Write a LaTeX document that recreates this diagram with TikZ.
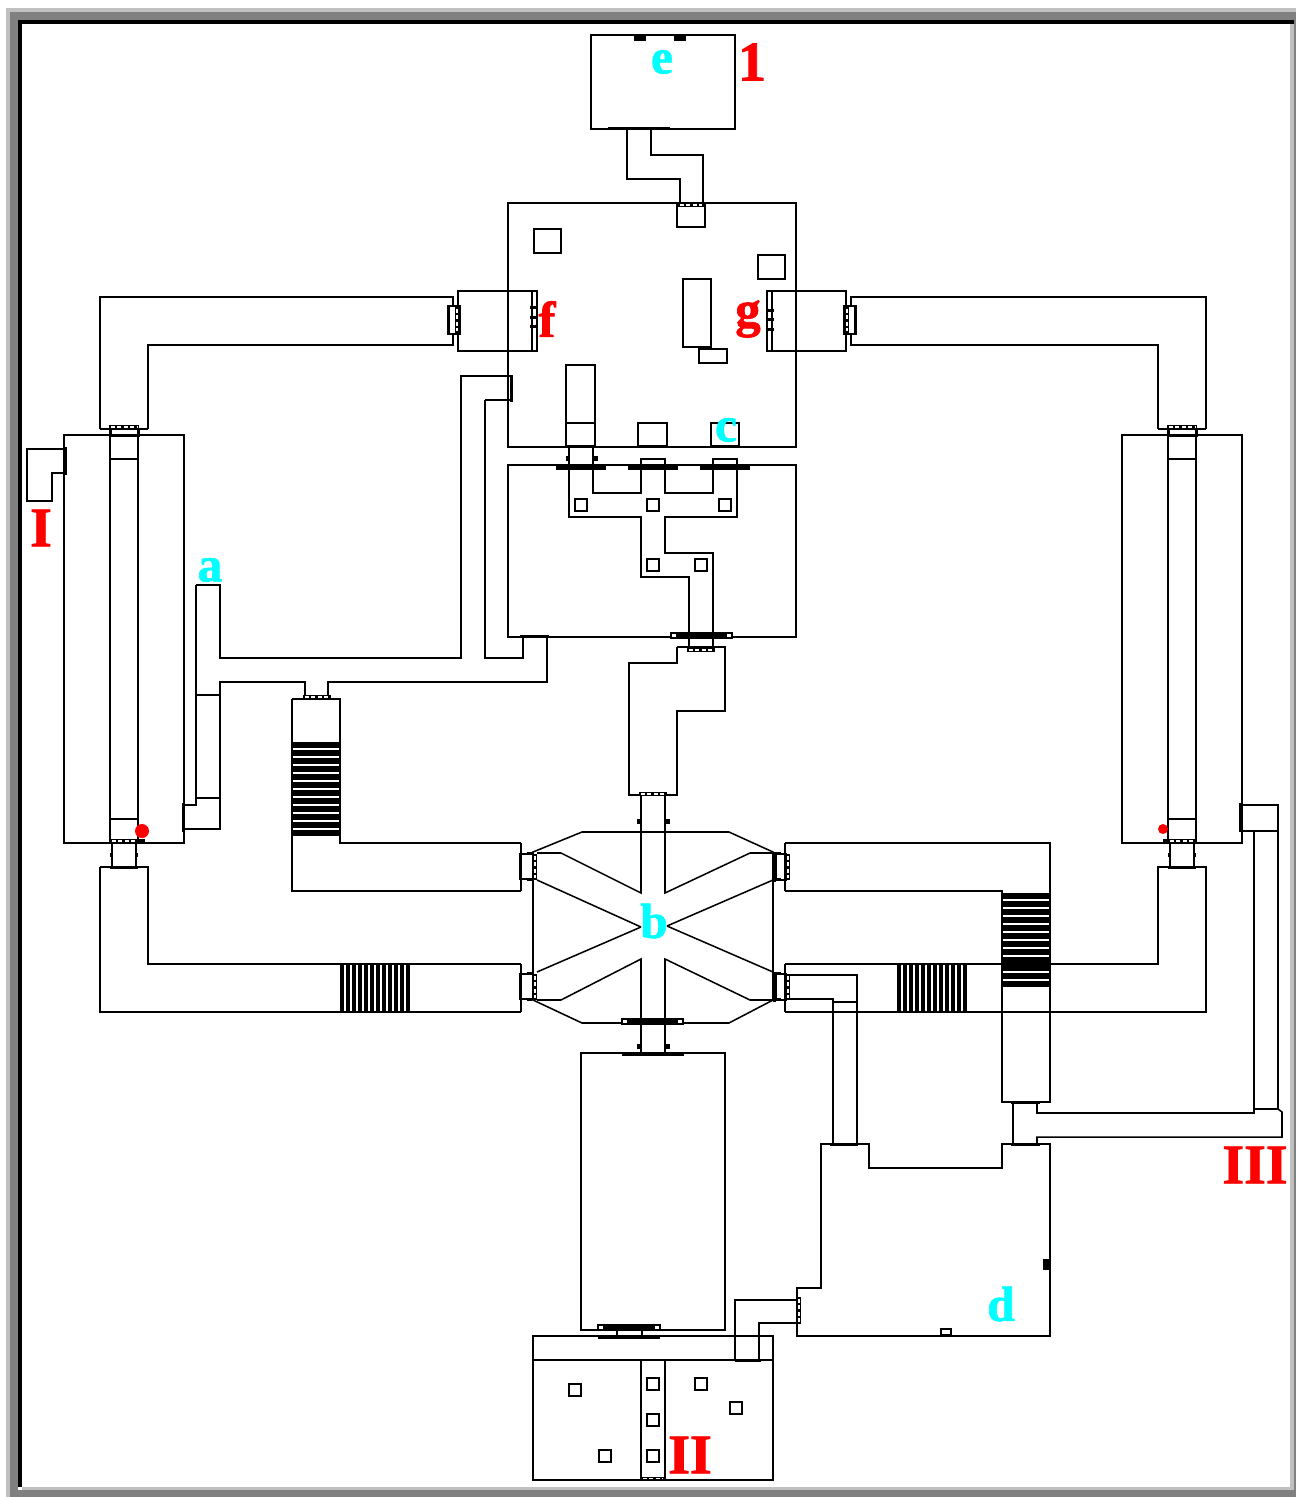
\documentclass[tikz,border=0pt]{standalone}
\usepackage{fontspec}
\setmainfont{Liberation Serif}
\newfontfamily\labfont[FakeBold=1.4]{Liberation Serif Bold}
\definecolor{lgray}{RGB}{192,192,192}
\definecolor{mgray}{RGB}{128,128,128}
\definecolor{labred}{RGB}{255,0,0}
\definecolor{labcyan}{RGB}{0,255,255}
\newcommand\stripH[3]{%
  \fill[black] (#1,#3) rectangle (#2,#3+4);
  \draw[white,line width=1.1pt,dash pattern=on 3pt off 1.8pt] (#1+2,#3+2) -- (#2-2,#3+2);}
\newcommand\stripV[3]{%
  \fill[black] (#3,#1) rectangle (#3+4,#2);
  \draw[white,line width=1.1pt,dash pattern=on 3pt off 1.8pt] (#3+2,#1+2) -- (#3+2,#2-2);}
\newcommand\capbar[3]{%
  \draw[wire,fill=white] (#1,#3) rectangle (#2,#3+5);
  \fill[black] (#1+5,#3) rectangle (#2-5,#3+5);}
\newcommand\boldH[3]{\fill[black] (#1,#3-1.5) rectangle (#2,#3+1.5);}
\newcommand\boldV[3]{\fill[black] (#3-1.5,#1) rectangle (#3+1.5,#2);}
\newcommand\sqr[2]{\draw[wire] (#1,#2) rectangle (#1+12,#2+12);}
\tikzset{
  wire/.style={draw=black,line width=1.15pt,line join=miter},
  redlab/.style={text=labred,font=\labfont\fontsize{42}{42}\selectfont,inner sep=0pt},
  redlow/.style={text=labred,font=\labfont\fontsize{38}{38}\selectfont,inner sep=0pt},
  cyanlab/.style={text=labcyan,font=\labfont\fontsize{37}{37}\selectfont,inner sep=0pt}
}
\begin{document}
\begin{tikzpicture}[x=0.75pt,y=-0.75pt]
\useasboundingbox (0,0) rectangle (1296,1497);
% frame
\fill[white] (0,0) rectangle (1296,1497);
\fill[lgray] (6,8) rectangle (1296,12);
\fill[lgray] (6,8) rectangle (10,1497);
\fill[mgray] (10,12) rectangle (1296,20);
\fill[mgray] (10,12) rectangle (18,1497);
\fill[black] (18,20) rectangle (1294,24);
\fill[black] (18,20) rectangle (22,1487);
\fill[lgray] (1290,24) rectangle (1294,1490);
\fill[mgray] (1294,20) rectangle (1296,1497);
\fill[lgray] (22,1487) rectangle (1294,1490);
\fill[mgray] (18,1490) rectangle (1296,1497);
%
% ---- top box e and duct
\draw[wire] (591,35) rectangle (735,129);
\fill[black] (634,35) rectangle (646,41);
\fill[black] (674,35) rectangle (686,41);
\boldH{608}{670}{128}
\draw[wire] (627,129) -- (627,179) -- (680,179) -- (680,203);
\draw[wire] (651,129) -- (651,155) -- (703,155) -- (703,203);
%
% ---- upper big box
\draw[wire] (508,203) rectangle (796,447);
\draw[wire] (677,203) rectangle (705,227);
\stripH{678}{704}{203}
\draw[wire] (534,229) rectangle (561,253);
\draw[wire] (758,255) rectangle (785,279);
\draw[wire] (683,279) rectangle (711,347);
\draw[wire] (699,349) rectangle (727,363);
\draw[wire] (566,365) rectangle (595,447);
\draw[wire] (566,423) -- (595,423);
\draw[wire] (638,423) rectangle (667,447);
\draw[wire] (711,423) rectangle (739,447);
\boldH{566}{595}{446}
\boldH{638}{667}{446}
\boldH{711}{739}{446}
%
% ---- f and g housings
\draw[wire] (458,291) rectangle (537,351);
\draw[wire] (532,291) -- (532,351);
\draw[wire] (767,291) rectangle (846,351);
\draw[wire] (772,291) -- (772,351);
\foreach \yy in {307,317,326} {\fill[black] (529.5,\yy-1.5) rectangle (536,\yy+1.5);}
\foreach \yy in {310,319,329} {\fill[black] (767,\yy-1.5) rectangle (774,\yy+1.5);}
%
% ---- long upper ducts
\draw[wire] (100,429) -- (100,297) -- (453,297) -- (453,345) -- (148,345) -- (148,429);
\draw[wire] (100,429) -- (110,429);
\draw[wire] (138,429) -- (148,429);
\draw[wire] (1206,429) -- (1206,297) -- (851,297) -- (851,345) -- (1158,345) -- (1158,429);
\draw[wire] (1158,429) -- (1168,429);
\draw[wire] (1196,429) -- (1206,429);
\draw[wire,fill=white] (448,306) rectangle (460,334);
\boldV{305}{335}{448.5}
\stripV{307}{333}{455}
\draw[wire,fill=white] (844,306) rectangle (856,334);
\boldV{305}{335}{855.5}
\stripV{307}{333}{845}
%
% ---- towers
\draw[wire] (64,435) rectangle (184,843);
\draw[wire] (110,435) rectangle (138,843);
\draw[wire] (110,459) -- (138,459);
\draw[wire] (110,819) -- (138,819);
\draw[wire] (1122,435) rectangle (1242,843);
\draw[wire] (1168,435) rectangle (1196,843);
\draw[wire] (1168,459) -- (1196,459);
\draw[wire] (1168,819) -- (1196,819);
\foreach \xa in {110,1168} {
  \draw[wire,fill=white] (\xa,429) rectangle (\xa+28,436);
  \stripH{\xa-1}{\xa+29}{425}
  \boldH{\xa-1}{\xa+29}{435.5}
  \boldV{429}{437}{\xa}
  \boldV{429}{437}{\xa+28}
  \draw[wire] (\xa+2,843) -- (\xa+2,867);
  \draw[wire] (\xa+26,843) -- (\xa+26,867);
  \fill[black] (\xa,853) rectangle (\xa+3,857);
  \fill[black] (\xa+25,853) rectangle (\xa+28,857);
  \boldH{\xa}{\xa+28}{867}
}
\stripH{110}{138}{839}
\fill[black] (137,839) rectangle (145,843);
\stripH{1168}{1196}{839}
\fill[black] (1163,839) rectangle (1170,843);
\fill[labred] (142,831) circle (7);
\fill[labred] (1163,829) circle (5);
%
% ---- I stub
\draw[wire] (64,449) -- (27,449) -- (27,501) -- (52,501) -- (52,473) -- (64,473);
\boldV{447}{475}{65}
%
% ---- lower left duct with hatch
\draw[wire] (100,867) -- (148,867) -- (148,964) -- (521,964);
\draw[wire] (100,867) -- (100,1012) -- (521,1012);
\draw[wire] (521,964) -- (521,1012);
\foreach \i in {0,...,11} {\fill[black] (339.7+\i*6,964) rectangle (344.3+\i*6,1012);}
%
% ---- a duct
\draw[wire] (196,585) -- (220,585) -- (220,658) -- (461,658) -- (461,376) -- (511,376);
\draw[wire] (196,585) -- (196,805) -- (183,805);
\draw[wire] (183,829) -- (220,829) -- (220,682) -- (305,682) -- (305,697);
\draw[wire] (328,697) -- (328,682) -- (547,682) -- (547,637);
\draw[wire] (196,695) -- (220,695);
\draw[wire] (196,798) -- (220,798);
\boldV{803}{832}{183.5}
\draw[wire] (485,400) -- (511,400);
\draw[wire] (485,400) -- (485,658) -- (523,658) -- (523,637);
\boldV{375}{402}{511}
%
% ---- middle box
\draw[wire] (508,465) rectangle (796,637);
\fill[black] (556,465.5) rectangle (606,470);
\fill[black] (628,465.5) rectangle (678,470);
\fill[black] (700,465.5) rectangle (750,470);
\draw[wire] (569,447) -- (569,517) -- (641,517) -- (641,577) -- (689,577) -- (689,650);
\draw[wire] (713,650) -- (713,553) -- (665,553) -- (665,517) -- (737,517) -- (737,459) -- (713,459) -- (713,493) -- (665,493) -- (665,459) -- (641,459) -- (641,493) -- (593,493) -- (593,447);
\fill[black] (566,456) rectangle (570,461);
\fill[black] (593,456) rectangle (598,461);
\sqr{575}{499}\sqr{647}{499}\sqr{719}{499}
\sqr{647}{559}\sqr{695}{559}
\capbar{671}{732}{633}
\boldH{520}{549}{636}
%
% ---- duct from middle to centre
\draw[wire] (677,647) -- (725,647) -- (725,711) -- (677,711) -- (677,795) -- (629,795) -- (629,663) -- (677,663) -- (677,647);
\stripH{687}{715}{648}
\stripH{639}{667}{792}
%
% ---- hatched upper-left duct
\draw[wire] (292,699) -- (340,699) -- (340,843) -- (521,843);
\draw[wire] (292,699) -- (292,891) -- (521,891);
\draw[wire] (521,843) -- (521,891);
\stripH{303}{331}{695}
\foreach \i in {0,...,11} {\fill[black] (292,742+\i*8) rectangle (340,748+\i*8);}
%
% ---- central element
\draw[wire] (533,852) -- (582,832) -- (729,832) -- (773,852) -- (773,1000) -- (729,1023) -- (582,1023) -- (533,1000) -- cycle;
\draw[wire] (641,796) -- (641,893) -- (561,853) -- (537,853);
\draw[wire] (665,796) -- (665,893) -- (750,853) -- (773,853);
\draw[wire] (537,880) -- (641,927);
\draw[wire] (773,880) -- (667,926);
\draw[wire] (537,972) -- (641,927);
\draw[wire] (773,972) -- (667,926);
\draw[wire] (641,1053) -- (641,959) -- (561,1000) -- (537,1000);
\draw[wire] (665,1053) -- (665,959) -- (750,1000) -- (773,1000);
\foreach \yy in {821,1046} {
  \fill[black] (637,\yy-2.5) rectangle (641,\yy+2.5);
  \fill[black] (665,\yy-2.5) rectangle (670,\yy+2.5);
}
\capbar{622}{683}{1019}
% side connectors
\foreach \dy in {0,120} {
  \draw[wire,fill=white] (520,854+\dy) rectangle (533,879+\dy);
  \boldV{854+\dy}{880+\dy}{520.5}
  \fill[black] (527,852+\dy) rectangle (532,855+\dy);
  \fill[black] (527,878+\dy) rectangle (532,881+\dy);
  \stripV{854+\dy}{880+\dy}{533}
  \draw[wire,fill=white] (776,854+\dy) rectangle (786,880+\dy);
  \boldV{852+\dy}{882+\dy}{774.5}
  \fill[black] (776,852+\dy) rectangle (781,855+\dy);
  \fill[black] (776,878+\dy) rectangle (781,881+\dy);
  \stripV{854+\dy}{880+\dy}{786}
}
\draw[wire] (785,843) -- (785,891);
\draw[wire] (785,964) -- (785,1012);
%
% ---- right ducts
\draw[wire] (785,843) -- (1050,843) -- (1050,1102) -- (1002,1102) -- (1002,891) -- (785,891);
\draw[wire] (785,964) -- (1158,964) -- (1158,867) -- (1206,867) -- (1206,1012) -- (785,1012);
\foreach \i in {0,...,11} {\fill[black] (1002,893+\i*8) rectangle (1050,899+\i*8);}
\foreach \i in {0,...,11} {\fill[black] (896.7+\i*6,964) rectangle (901.3+\i*6,1012);}
\draw[wire] (790,975) -- (857,975) -- (857,1144);
\draw[wire] (790,999) -- (833,999) -- (833,1144);
\draw[wire] (833,1002) -- (857,1002);
%
% ---- d
\draw[wire] (821,1144) -- (869,1144) -- (869,1168) -- (1002,1168) -- (1002,1144) -- (1050,1144) -- (1050,1336) -- (797,1336) -- (797,1288) -- (821,1288) -- cycle;
\boldH{830}{858}{1144}
\boldH{1011}{1040}{1144}
\boldH{1011}{1040}{1102.5}
\fill[black] (1043,1259) rectangle (1050,1270);
\draw[wire] (941,1329) rectangle (951,1335);
%
% ---- III duct
\draw[wire] (1013,1102) -- (1013,1144);
\draw[wire] (1037,1102) -- (1037,1113) -- (1254,1113) -- (1254,831) -- (1240,831);
\draw[wire] (1240,805) -- (1278,805) -- (1278,1109) -- (1282,1112) -- (1282,1137) -- (1037,1137) -- (1037,1144);
\draw[wire] (1254,831) -- (1278,831);
\draw[wire] (1254,1109) -- (1278,1109);
\boldV{803}{832}{1240.5}
%
% ---- lower big box
\draw[wire] (581,1053) rectangle (725,1330);
\boldH{622}{684}{1054}
\capbar{598}{660}{1325}
\boldH{598}{660}{1337}
\draw[wire] (617,1330) -- (617,1336);
\draw[wire] (642,1330) -- (642,1336);
%
% ---- II box
\draw[wire] (533,1336) rectangle (773,1480);
\draw[wire] (533,1360) -- (773,1360);
\draw[wire] (641,1360) -- (641,1480);
\draw[wire] (665,1360) -- (665,1480);
\stripH{641}{665}{1476.5}
\draw[wire] (735,1360) -- (735,1300) -- (797,1300);
\draw[wire] (759,1360) -- (759,1323) -- (797,1323);
\boldH{735}{761}{1360.5}
\stripV{1297}{1324}{797}
\sqr{569}{1384}\sqr{647}{1378}\sqr{647}{1414}\sqr{647}{1450}
\sqr{695}{1378}\sqr{730}{1402}\sqr{599}{1450}
%
% ---- labels
\node[cyanlab] (lblE) at (662,62) {e};
\node[redlab] (lblOne) at (752,62) {1};
\node[redlow] (lblF) at (547,319) {f};
\node[redlow] (lblG) at (748,319) {g};
\node[cyanlab] (lblC) at (726,430) {c};
\node[cyanlab] (lblA) at (210,570) {a};
\node[cyanlab] (lblB) at (654,921) {b};
\node[cyanlab] (lblD) at (1001,1304) {d};
\node[redlab] (lblI) at (41,528) {I};
\node[redlab] (lblII) at (690,1455) {II};
\node[redlab] (lblIII) at (1255,1165) {III};
\end{tikzpicture}
\end{document}
